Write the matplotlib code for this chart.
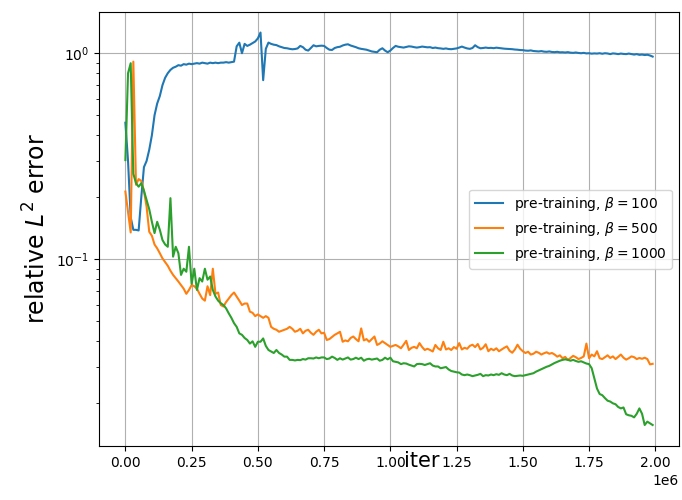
import numpy as np
import matplotlib
matplotlib.use("Agg")
import matplotlib.pyplot as plt

# iterations (every 10k steps, 0 .. 1.99e6)
iters = np.arange(200) * 1.0e4

err_beta100 = [
    0.46, 0.30, 0.16, 0.139, 0.139, 0.138, 0.20, 0.28, 0.30, 0.34,
    0.40, 0.50, 0.57, 0.62, 0.70, 0.76, 0.80, 0.83, 0.85, 0.86,
    0.875, 0.87, 0.885, 0.88, 0.89, 0.885, 0.89, 0.895, 0.89, 0.90,
    0.895, 0.89, 0.90, 0.895, 0.90, 0.895, 0.90, 0.90, 0.905, 0.90,
    0.905, 0.91, 1.08, 1.125, 1.0, 1.11, 1.085, 1.10, 1.12, 1.14,
    1.18, 1.26, 0.74, 1.05, 1.126, 1.11, 1.10, 1.095, 1.08, 1.07,
    1.06, 1.057, 1.05, 1.045, 1.048, 1.055, 1.085, 1.07, 1.04, 1.03,
    1.06, 1.093, 1.08, 1.085, 1.088, 1.085, 1.06, 1.04, 1.037, 1.06,
    1.07, 1.075, 1.09, 1.10, 1.105, 1.09, 1.08, 1.07, 1.057, 1.05,
    1.045, 1.04, 1.03, 1.02, 1.015, 1.011, 1.04, 1.057, 1.03, 1.011,
    1.03, 1.06, 1.085, 1.075, 1.07, 1.065, 1.072, 1.08, 1.077, 1.07,
    1.065, 1.07, 1.077, 1.072, 1.068, 1.07, 1.06, 1.065, 1.058, 1.055,
    1.05, 1.055, 1.048, 1.046, 1.05, 1.055, 1.065, 1.077, 1.065, 1.055,
    1.05, 1.06, 1.093, 1.07, 1.057, 1.06, 1.065, 1.06, 1.062, 1.058,
    1.064, 1.06, 1.055, 1.052, 1.05, 1.048, 1.046, 1.042, 1.04, 1.036,
    1.035, 1.03, 1.028, 1.032, 1.025, 1.022, 1.02, 1.024, 1.018, 1.016,
    1.02, 1.014, 1.012, 1.016, 1.01, 1.011, 1.008, 1.012, 1.006, 1.004,
    1.008, 1.003, 1.0, 1.004, 0.998, 1.0, 0.995, 0.998, 0.996, 1.0,
    0.994, 1.0, 0.997, 0.99, 0.998, 0.995, 0.99, 0.996, 0.992, 0.99,
    0.996, 0.99, 0.985, 0.99, 0.982, 0.985, 0.98, 0.983, 0.975, 0.963,
]

err_beta500 = [
    0.213, 0.17, 0.135, 0.91, 0.23, 0.245, 0.24, 0.215, 0.18, 0.136,
    0.13, 0.118, 0.113, 0.107, 0.101, 0.097, 0.093, 0.088, 0.084, 0.081,
    0.078, 0.075, 0.072, 0.068, 0.071, 0.075, 0.074, 0.072, 0.068, 0.0645,
    0.063, 0.074, 0.067, 0.090, 0.068, 0.069, 0.060, 0.059, 0.062, 0.0645,
    0.067, 0.069, 0.066, 0.063, 0.060, 0.061, 0.061, 0.0557, 0.055, 0.053,
    0.054, 0.053, 0.052, 0.053, 0.052, 0.047, 0.046, 0.0455, 0.0445, 0.045,
    0.0455, 0.046, 0.047, 0.046, 0.0445, 0.045, 0.046, 0.0437, 0.045, 0.0455,
    0.044, 0.043, 0.0445, 0.0455, 0.0437, 0.044, 0.0406, 0.041, 0.042, 0.043,
    0.0437, 0.0445, 0.0398, 0.0404, 0.040, 0.0415, 0.0422, 0.041, 0.040, 0.0462,
    0.0404, 0.041, 0.0398, 0.041, 0.0422, 0.0384, 0.039, 0.040, 0.0392, 0.0384,
    0.0376, 0.038, 0.0384, 0.0378, 0.037, 0.0385, 0.0402, 0.0363, 0.0372, 0.0376,
    0.037, 0.0392, 0.0375, 0.0363, 0.0368, 0.0363, 0.0357, 0.0384, 0.037, 0.0363,
    0.0398, 0.0365, 0.037, 0.0363, 0.0375, 0.0368, 0.0392, 0.0365, 0.0372, 0.0368,
    0.038, 0.0385, 0.0375, 0.0388, 0.0365, 0.0372, 0.0387, 0.0358, 0.0368, 0.0362,
    0.037, 0.0358, 0.0365, 0.0372, 0.0378, 0.036, 0.0352, 0.0365, 0.0385, 0.0368,
    0.0358, 0.0351, 0.0356, 0.0345, 0.0348, 0.0356, 0.0352, 0.0345, 0.035, 0.0354,
    0.0348, 0.0351, 0.0345, 0.0337, 0.0342, 0.0331, 0.0336, 0.0325, 0.0332, 0.034,
    0.0335, 0.0328, 0.0332, 0.0338, 0.039, 0.0331, 0.0345, 0.0338, 0.0358, 0.0331,
    0.0328, 0.0335, 0.0342, 0.0332, 0.0338, 0.0328, 0.0336, 0.0345, 0.0333, 0.0326,
    0.0331, 0.0338, 0.0335, 0.0328, 0.0332, 0.0329, 0.0333, 0.0328, 0.0309, 0.0311,
]

err_beta1000 = [
    0.303, 0.80, 0.894, 0.26, 0.234, 0.225, 0.234, 0.215, 0.194, 0.175,
    0.152, 0.134, 0.152, 0.139, 0.124, 0.118, 0.115, 0.198, 0.103, 0.115,
    0.107, 0.084, 0.090, 0.087, 0.115, 0.076, 0.090, 0.071, 0.081, 0.078,
    0.090, 0.0796, 0.0825, 0.071, 0.066, 0.063, 0.0612, 0.060, 0.0578, 0.0547,
    0.052, 0.049, 0.047, 0.0437, 0.043, 0.0415, 0.0406, 0.039, 0.040, 0.0376,
    0.0398, 0.0398, 0.0413, 0.038, 0.0363, 0.0357, 0.0351, 0.0363, 0.0351, 0.0345,
    0.0337, 0.0337, 0.0325, 0.0325, 0.0323, 0.0325, 0.0324, 0.0328, 0.0326, 0.0331,
    0.0331, 0.033, 0.0334, 0.0331, 0.0334, 0.0334, 0.0328, 0.033, 0.0337, 0.0332,
    0.0325, 0.0331, 0.0326, 0.033, 0.0334, 0.0326, 0.0328, 0.0333, 0.0328, 0.0333,
    0.0322, 0.0327, 0.0329, 0.0326, 0.0328, 0.033, 0.0322, 0.0325, 0.0333, 0.0327,
    0.0333, 0.032, 0.0318, 0.0316, 0.031, 0.0313, 0.0312, 0.0308, 0.0305, 0.0302,
    0.031, 0.0311, 0.031, 0.0307, 0.031, 0.0313, 0.0305, 0.0302, 0.0302, 0.0296,
    0.0298, 0.03, 0.0292, 0.0287, 0.0285, 0.0283, 0.0282, 0.0276, 0.0274, 0.0276,
    0.0274, 0.0271, 0.0273, 0.0275, 0.0278, 0.0271, 0.0274, 0.0273, 0.0276, 0.0274,
    0.0277, 0.0275, 0.028, 0.0276, 0.0274, 0.0278, 0.0273, 0.0271, 0.0272, 0.0273,
    0.0272, 0.0274, 0.0276, 0.0278, 0.028, 0.0285, 0.0289, 0.0293, 0.0297, 0.0301,
    0.0304, 0.0309, 0.0314, 0.0318, 0.0322, 0.0325, 0.0327, 0.0325, 0.0322, 0.0325,
    0.0321, 0.0318, 0.032, 0.0316, 0.0312, 0.031, 0.0296, 0.0264, 0.0236, 0.0222,
    0.0219, 0.0212, 0.0206, 0.0204, 0.02, 0.0198, 0.0192, 0.0189, 0.0191, 0.0177,
    0.0175, 0.0174, 0.0171, 0.0178, 0.0189, 0.0178, 0.0157, 0.0163, 0.016, 0.0157,
]

labels = [r"pre-training, $\beta=100$",
          r"pre-training, $\beta=500$",
          r"pre-training, $\beta=1000$"]

fig = plt.figure(figsize=(6.82, 5.0), dpi=100)
ax = fig.add_axes([0.1452, 0.108, 0.8504, 0.868])

for series, lab in zip([err_beta100, err_beta500, err_beta1000], labels):
    ax.plot(iters, series, label=lab)

ax.set_yscale("log")
ax.set_ylim(10 ** -1.906, 10 ** 0.2)
ax.grid(True)
ax.set_xlabel("iter", fontsize=15)
ax.xaxis.set_label_coords(0.557, -0.012)
ax.set_ylabel(r"relative $L^2$ error", fontsize=17)
ax.legend(loc="center right")

fig.savefig("out.png", dpi=100)
